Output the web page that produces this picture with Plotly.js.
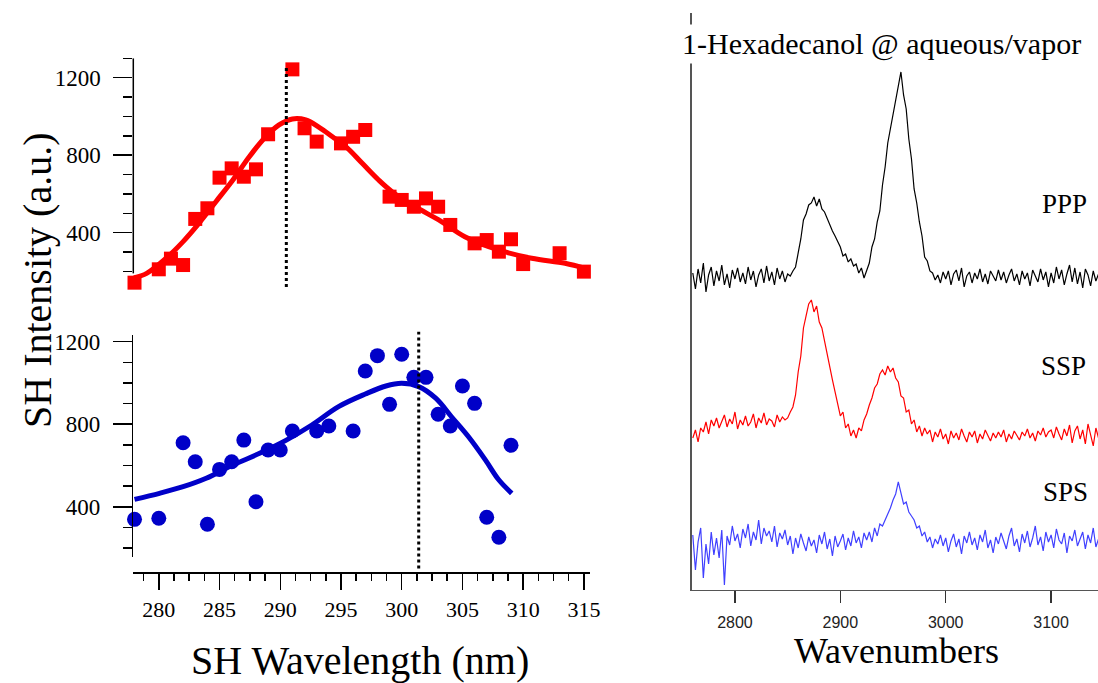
<!DOCTYPE html>
<html><head><meta charset="utf-8">
<script src="https://cdn.plot.ly/plotly-3.0.1.min.js"></script>
<style>html,body{margin:0;padding:0;background:#fff}#chart{width:1098px;height:683px}</style>
</head><body><div id="chart"></div>
<script>
// ---------- Left panel data (SH wavelength scans) ----------
const redWl  = [278, 280, 281, 282, 283, 284, 285, 286, 287, 288, 289, 291, 292, 293, 295, 296, 297, 299, 300, 301, 302, 303, 304, 306, 307, 308, 309, 310, 313, 315];
const redVal = [142, 211, 266, 233, 471, 526, 684, 732, 689, 727, 908, 1243, 939, 870, 861, 895, 930, 586, 569, 534, 577, 534, 440, 345, 362, 302, 366, 238, 294, 199];
const redFitWl  = [277.9, 279.0, 280.6, 282.0, 283.3, 284.7, 286.1, 287.45, 288.8, 289.9, 291.0, 292.1, 293.2, 294.3, 295.4, 296.75, 298.1, 299.2, 301.1, 303.05, 305.2, 307.97, 310.7, 313.45, 315.1];
const redFitVal = [166, 190, 268, 354, 448, 560, 672, 792, 895, 956, 987, 982, 944, 895, 844, 758, 672, 612, 534, 466, 379, 311, 268, 242, 216];

const blueWl  = [278, 280, 282, 283, 284, 285, 286, 287, 288, 289, 290, 291, 293, 294, 296, 297, 298, 299, 300, 301, 302, 303, 304, 305, 306, 307, 308, 309];
const blueVal = [339, 344, 710, 618, 315, 581, 618, 723, 424, 675, 675, 767, 767, 791, 767, 1058, 1132, 896, 1139, 1027, 1027, 848, 791, 985, 901, 349, 252, 698];
const blueFitWl  = [278.0, 280.06, 282.0, 283.9, 286.1, 288.3, 290.5, 292.6, 294.8, 297.0, 298.7, 300.0, 301.4, 302.8, 304.1, 305.5, 306.9, 307.97, 309.06];
const blueFitVal = [436, 465, 497, 538, 602, 659, 723, 796, 885, 946, 985, 998, 982, 926, 836, 739, 626, 532, 465];

const peakWlTop = 290.5;
const peakWlBottom = 301.4;

// ---------- Right panel data (SFG spectra, arbitrary units) ----------
const WN_START = 2760, WN_STEP = 2.5;
const ppp = [
  4, -12, 8, -6, 14, -15, 2, 10, -9, 6,
  -4, 12, -8, 3, -11, 7, -2, 9, -5, 4,
  -7, 10, -3, 6, -10, 2, 8, -6, 11, -4,
  5, -8, 9, -2, 6, -5,
  3, 1, 6, 10, 24, 38, 57, 63, 72, 74,
  80, 71, 78, 68, 65, 58, 52, 46, 41, 35,
  30, 21, 23, 15, 18, 11, 13, 4, 9, -1,
  6, 14, 30, 38, 55, 66, 92, 110, 134, 148,
  162, 178, 194, 205, 182, 168, 138, 118, 88, 74,
  55, 41, 20, 16, 6, 4, -3, 2, -6, 5,
  -2, 6, -8, 3, 7, -4, 9, -10, 1, 5,
  -6, 4, -2, 8, -5, 3, -7, 6, 1, -4,
  7, -3, 5, -6, 2, 8, -4, 3, -8, 6,
  -2, 4, -9, 7, 1, -5, 8, -3, 5, -10,
  4, -6, 10, -2, 7, -8, 3, 12, -5, 9,
  -7, 5, -11, 8, 2, -9, 6, -4, 3
];
const ssp = [
  2, 10, -2, 12, 8, 18, 6, 20, 14, 22,
  12, 19, 25, 13, 21, 16, 28, 11, 20, 15,
  24, 14, 18, 26, 12, 22, 17, 27, 15, 21,
  19, 13, 25, 18, 23, 20,
  22, 28, 33, 45, 68, 84, 112, 124, 136, 140,
  128, 134, 118, 112, 98, 86, 74, 60, 48, 36,
  24, 28, 12, 16, 4, 10, 2, 12, 9, 20,
  26, 35, 42, 52, 56, 66, 70, 65, 74, 68,
  72, 62, 58, 44, 42, 28, 30, 16, 20, 8,
  14, 4, 12, 6, 10, -2, 8, 3, 11, 1,
  6, -4, 9, 2, 7, 0, 11, 4, -2, 8,
  3, 9, -3, 6, 1, 10, 4, -1, 7, 2,
  8, 3, 10, -2, 6, 1, 9, 5, 0, 8,
  4, 11, 2, 7, -1, 9, 5, 12, 3, 8,
  10, 2, 13, 6, 0, 11, 4, 15, -3, 9,
  14, 1, 10, -4, 16, 5, -6, 12, 2
];
const sps = [
  15, -20, 8, 22, -28, 6, -14, 18, -5, 12,
  -8, 20, -35, 14, 5, 24, 9, 16, 2, 21,
  12, 26, 4, 18, 10, 30, 6, 22, 14, 19,
  8, 24, 3, 17, 11, 20,
  5, 14, -4, 12, 2, 16, 7, -1, 13, 4,
  10, -3, 15, 6, 18, 1, 11, -6, 14, 3,
  9, 16, 0, 12, 4, 19, 7, 13, 2, 17,
  10, 18, 8, 22, 14, 26, 24, 30, 36, 42,
  50, 56, 68, 58, 46, 48, 38, 34, 30, 22,
  24, 14, 18, 8, 13, 2, 11, 6, 15, 4,
  12, -2, 9, 16, 3, 11, -4, 14, 7, 18,
  5, 12, 0, 15, 8, 20, 2, 10, -3, 13,
  6, 17, 9, 1, 14, 22, 4, 11, -2, 16,
  7, 19, 3, 12, 24, 5, 13, -1, 18, 8,
  15, 2, 21, 10, 6, 17, -3, 14, 9, 20,
  4, 12, 18, 1, 15, 7, 22, 3, 11
];
const spectraOffsets = {PPP: 313, SSP: 150, SPS: 40};

// ---------- build ----------
const wn = ppp.map((_, i) => WN_START + i * WN_STEP);
const shift = (arr, off) => arr.map(v => v + off);

const SERIF = 'Liberation Serif';
const SANS = 'Liberation Sans';

const traces = [
  {x: redFitWl, y: redFitVal, xaxis: 'x', yaxis: 'y2', mode: 'lines', cliponaxis: false, line: {color: '#ff0000', width: 5, shape: 'spline', smoothing: 1}, hoverinfo: 'skip'},
  {x: redWl, y: redVal, xaxis: 'x', yaxis: 'y2', mode: 'markers', cliponaxis: false, marker: {symbol: 'square', size: 14, color: '#ff0000'}},
  {x: blueFitWl, y: blueFitVal, xaxis: 'x', yaxis: 'y', mode: 'lines', line: {color: '#0000c8', width: 5, shape: 'spline', smoothing: 1}, hoverinfo: 'skip'},
  {x: blueWl, y: blueVal, xaxis: 'x', yaxis: 'y', mode: 'markers', cliponaxis: false, marker: {symbol: 'circle', size: 15, color: '#0000c8'}},
  {x: wn, y: shift(ppp, spectraOffsets.PPP), xaxis: 'x2', yaxis: 'y3', mode: 'lines', line: {color: '#000000', width: 1.2}},
  {x: wn, y: shift(ssp, spectraOffsets.SSP), xaxis: 'x2', yaxis: 'y3', mode: 'lines', line: {color: '#ff0000', width: 1.2}},
  {x: wn, y: shift(sps, spectraOffsets.SPS), xaxis: 'x2', yaxis: 'y3', mode: 'lines', line: {color: '#4040ff', width: 1.2}}
];

const leftY = (domain, range, showline) => ({
  domain: domain, range: range, anchor: 'x',
  showline: showline, linecolor: '#000', linewidth: 1.5,
  ticks: 'outside', ticklen: 19, tickwidth: 1.5, tickcolor: '#000',
  tick0: 0, dtick: 400, ticklabelstandoff: 8,
  minor: {tick0: 0, dtick: 100, ticks: 'outside', ticklen: 9, tickwidth: 1.5, tickcolor: '#000'},
  tickfont: {family: SERIF, size: 23, color: '#000'},
  showgrid: false, zeroline: false
});

const layout = {
  width: 1098, height: 683,
  margin: {l: 0, r: 0, t: 0, b: 0},
  paper_bgcolor: '#fff', plot_bgcolor: 'rgba(0,0,0,0)',
  showlegend: false,
  xaxis: {
    domain: [0.1214, 0.5373], range: [277.9, 315.5], anchor: 'free', position: 0.1618,
    showline: true, linecolor: '#000', linewidth: 1.5,
    ticks: 'outside', ticklen: 16, tickwidth: 1.5, tickcolor: '#000',
    tick0: 280, dtick: 5, ticklabelstandoff: 1,
    minor: {tick0: 280, dtick: 1.25, ticks: 'outside', ticklen: 7, tickwidth: 1.5, tickcolor: '#000'},
    tickfont: {family: SERIF, size: 22, color: '#000'},
    showgrid: false, zeroline: false
  },
  yaxis: leftY([0.184, 0.5095], [155, 1232], true),
  yaxis2: leftY([0.5799, 0.9146], [120, 1300], false),
  xaxis2: {
    domain: [0.63, 1.0], range: [2759, 3144.5], anchor: 'y3',
    showline: true, linecolor: '#555', linewidth: 1.5,
    ticks: 'outside', ticklen: 12, tickwidth: 1.5, tickcolor: '#333',
    tick0: 2800, dtick: 100, ticklabelstandoff: 5,
    tickfont: {family: SANS, size: 16, color: '#222'},
    showgrid: false, zeroline: false
  },
  yaxis3: {
    domain: [0.1362, 0.981], range: [0, 577], anchor: 'x2',
    showline: true, linecolor: '#555', linewidth: 1.5,
    ticks: '', showticklabels: false, showgrid: false, zeroline: false
  },
  shapes: [
    {type: 'line', xref: 'x domain', yref: 'y2', x0: 0, x1: 0, y0: 190, y1: 1300,
     line: {color: '#000', width: 1.5}},
    {type: 'line', xref: 'x', yref: 'y2 domain', x0: peakWlTop, x1: peakWlTop, y0: 0.0, y1: 0.965,
     line: {color: '#000', width: 3, dash: 'dot'}},
    {type: 'line', xref: 'x', yref: 'y domain', x0: peakWlBottom, x1: peakWlBottom, y0: -0.05, y1: 1.015,
     line: {color: '#000', width: 3, dash: 'dot'}}
  ],
  annotations: [
    {text: 'SH Intensity (a.u.)', textangle: -90, xref: 'paper', yref: 'paper', x: 37/1098, y: 1 - 280/683,
     xanchor: 'center', yanchor: 'middle', showarrow: false, font: {family: SERIF, size: 40, color: '#000'}},
    {text: 'SH Wavelength (nm)', xref: 'paper', yref: 'paper', x: 360/1098, y: 1 - 660/683,
     xanchor: 'center', yanchor: 'middle', showarrow: false, font: {family: SERIF, size: 40, color: '#000'}},
    {text: 'Wavenumbers', xref: 'paper', yref: 'paper', x: 896/1098, y: 1 - 651/683,
     xanchor: 'center', yanchor: 'middle', showarrow: false, font: {family: SERIF, size: 36, color: '#000'}},
    {text: '1-Hexadecanol @ aqueous/vapor', xref: 'paper', yref: 'paper', x: 881.5/1098, y: 1 - 44/683,
     xanchor: 'center', yanchor: 'middle', showarrow: false, bgcolor: '#fff', borderpad: 2,
     font: {family: SERIF, size: 30, color: '#000'}},
    {text: 'PPP', xref: 'paper', yref: 'paper', x: 1064.5/1098, y: 1 - 204/683,
     xanchor: 'center', yanchor: 'middle', showarrow: false, font: {family: SERIF, size: 27, color: '#000'}},
    {text: 'SSP', xref: 'paper', yref: 'paper', x: 1063/1098, y: 1 - 366/683,
     xanchor: 'center', yanchor: 'middle', showarrow: false, font: {family: SERIF, size: 27, color: '#000'}},
    {text: 'SPS', xref: 'paper', yref: 'paper', x: 1065.5/1098, y: 1 - 492/683,
     xanchor: 'center', yanchor: 'middle', showarrow: false, font: {family: SERIF, size: 27, color: '#000'}}
  ]
};

Plotly.newPlot('chart', traces, layout, {displayModeBar: false, staticPlot: true});
</script>
</body></html>
